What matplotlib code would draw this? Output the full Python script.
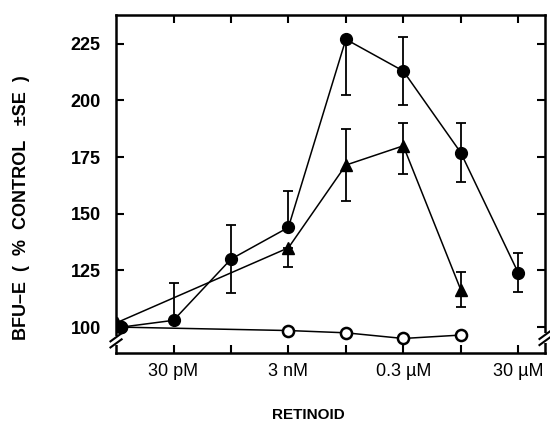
import matplotlib
matplotlib.use("Agg")
import matplotlib.pyplot as plt
from matplotlib.patches import Rectangle

plt.rcParams['font.family'] = ['Liberation Sans', 'DejaVu Sans']

# concentrations in molar; the first entry of each series is the untreated control
circle_conc = [3.7e-12, 3e-11, 3e-10, 3e-9, 3e-8, 3e-7, 3e-6, 3e-5]
circle_vals = [100, 103, 130, 144, 227, 213, 177, 124]
circle_lo = [0, 0, 15, 0, 24.5, 15, 13, 8.5]
circle_hi = [0, 16.5, 15, 16, 0, 15, 13, 8.5]

tri_conc = [3.1e-12, 3e-9, 3e-8, 3e-7, 3e-6]
tri_vals = [102, 135, 171.5, 180, 116.5]
tri_lo = [0, 8.5, 16, 12.5, 7.7]
tri_hi = [0, 0, 16, 10, 7.7]

open_conc = [3.7e-12, 3e-9, 3e-8, 3e-7, 3e-6]
open_vals = [100, 98.5, 97.5, 95, 96.5]

tick_pos = [3e-11, 3e-10, 3e-9, 3e-8, 3e-7, 3e-6, 3e-5]
tick_labels = ["30 pM", "", "3 nM", "", "0.3 µM", "", "30 µM"]
ytick_pos = [100, 125, 150, 175, 200, 225]

fig = plt.figure(figsize=(5.5, 4.23), dpi=100)
ax = fig.add_axes([0.211, 0.165, 0.78, 0.8])

ax.plot(open_conc, open_vals, color='black', lw=1.1, marker='o', ms=8,
        mfc='white', mec='black', mew=1.8, zorder=2)
ax.errorbar(tri_conc, tri_vals, yerr=[tri_lo, tri_hi], color='black', lw=1.1,
            marker='^', ms=8, elinewidth=1.3, capsize=3.5, capthick=1.3, zorder=3)
ax.errorbar(circle_conc, circle_vals, yerr=[circle_lo, circle_hi], color='black', lw=1.1,
            marker='o', ms=8.5, elinewidth=1.3, capsize=3.5, capthick=1.3, zorder=4)

ax.set_xscale('log')
ax.set_xlim(3e-12, 8.8e-5)
ax.set_ylim(88.5, 237.8)
ax.set_xticks(tick_pos)
ax.set_xticklabels(tick_labels)
ax.xaxis.set_minor_locator(matplotlib.ticker.NullLocator())
ax.set_yticks(ytick_pos)

ax.tick_params(axis='both', direction='in', length=6, width=1.5,
               top=True, right=True)
ax.tick_params(axis='x', labelsize=13, pad=7)
ax.tick_params(axis='y', labelsize=13, pad=11)
for lab in ax.get_yticklabels():
    lab.set_fontweight('bold')

for sp in ax.spines.values():
    sp.set_linewidth(1.8)

# axis breaks near the bottom of both vertical spines
for xa, yc in [(0.0, 0.038), (1.0, 0.045)]:
    ax.add_patch(Rectangle((xa - 0.01, yc - 0.014), 0.02, 0.028, transform=ax.transAxes,
                           facecolor='white', edgecolor='none', clip_on=False, zorder=5))
    for dy in (-0.009, 0.009):
        ax.plot([xa - 0.013, xa + 0.013], [yc + dy - 0.012, yc + dy + 0.012],
                transform=ax.transAxes, color='black', lw=1.5, clip_on=False, zorder=6)

fig.text(0.04, 0.51, "BFU–E  (  %  CONTROL   ±SE  )", rotation=90, ha='center', va='center',
         fontsize=13, fontweight='bold')
fig.text(0.56, 0.019, "RETINOID", ha='center', va='center', fontsize=11, fontweight='bold')

fig.savefig("out.png", dpi=100)
